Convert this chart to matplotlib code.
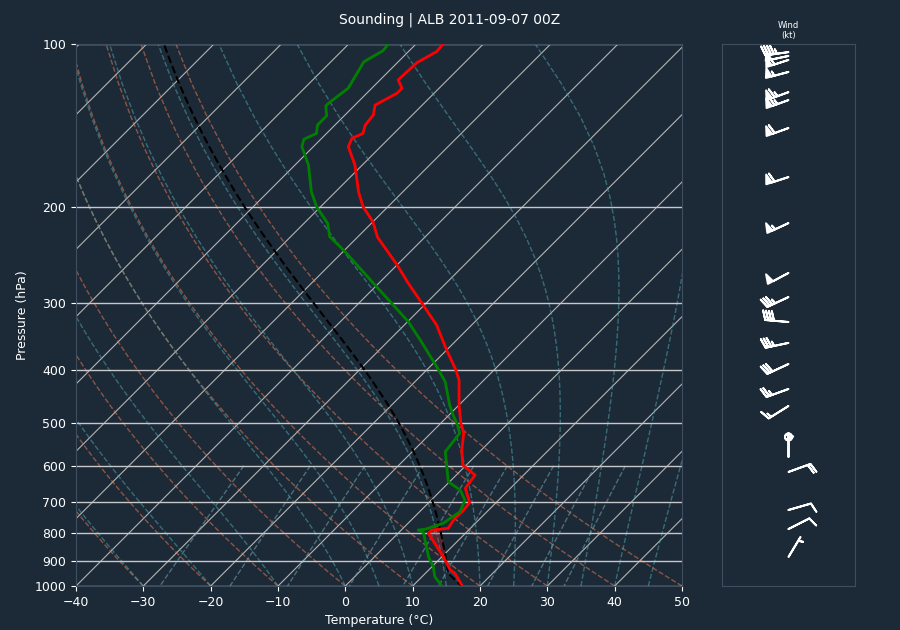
import numpy as np
import matplotlib.pyplot as plt

BG = '#1c2a38'
SPINE = '#3e4e5e'

# sounding (hPa, degC), surface first (surface sits just below 1000)
p_temp = [1006, 947.5, 934.3, 883, 799.5, 788.4, 782.7, 750.2, 729.4, 702, 660.1,
          624.3, 598.4, 561.3, 522.6, 501, 463.4, 416.8, 398.3, 367, 330, 300.9,
          276.4, 255.6, 227.3, 212.8, 199.6, 187.3, 167.2, 154.7, 149.3, 146.2,
          141.1, 135.2, 129.6, 123.3, 120.7, 116.5, 108.3, 103.3, 100]
temp = [17.7, 14.4, 13.2, 10.2, 4.5, 4.5, 6.7, 6.2, 6.3, 6.1, 3.3,
        2.8, -0.5, -2.9, -5.1, -7.0, -10.0, -13.7, -15.8, -20.0, -25.2, -30.6,
        -35.6, -40.0, -47.0, -50.0, -53.7, -56.6, -61.1, -64.8, -65.5, -64.6,
        -65.5, -65.8, -67.0, -65.5, -65.5, -67.3, -67.1, -65.8, -66.0]

p_dew = [1006, 961.2, 921.3, 883, 797.4, 788.4, 786.2, 766.2, 729.4, 694, 665.1,
         642.1, 565.3, 522.6, 501, 483.6, 463.4, 419.9, 393.9, 351.7, 325.4,
         300.9, 278.4, 241.6, 226.7, 214.2, 199.6, 187.3, 167.2, 154.7, 149.9,
         146.2, 141.1, 135.7, 130.1, 128.7, 120.7, 107.8, 102.9, 100]
dewp = [14.7, 11.9, 10.2, 8.0, 3.7, 2.5, 3.4, 5.2, 6.0, 5.0, 2.8,
        -0.2, -5.1, -5.7, -7.6, -9.4, -11.4, -15.5, -19.0, -25.4, -29.9,
        -35.1, -40.3, -49.7, -54.2, -56.5, -60.6, -63.6, -68.0, -71.7, -72.5,
        -71.5, -72.6, -72.6, -74.2, -74.2, -73.5, -75.1, -73.9, -74.1]

# winds (hPa, direction deg, speed kt)
p_wind = [884, 785, 724, 616, 578, 531, 465.5, 433, 389.4, 356, 325.8, 293,
          264.5, 214, 176, 142.9, 126.9, 122.7, 112.6, 107, 105.2, 103.5, 100]
wdir = [31, 63, 74, 70, 360, 0, 238, 250, 245, 258, 275, 245,
        242, 245, 252, 250, 250, 250, 255, 252, 258, 262, 270]
wspd = [5, 10, 10, 20, 5, 0, 15, 25, 30, 35, 40, 35,
        50, 55, 60, 60, 65, 65, 55, 55, 50, 45, 40]

# thermodynamics (same approach as metpy)
Rd, Cp, Lv, eps = 287.04749, 1005.7, 2.50084e6, 0.622
kappa = Rd / Cp


def sat_vp(tc):
    return 6.112 * np.exp(17.67 * tc / (tc + 243.5))


def dewpoint_from_e(e):
    a = np.log(e / 6.112)
    return 243.5 * a / (17.67 - a)


def moist_rate(p, tk):
    es = sat_vp(tk - 273.15)
    rs = eps * es / (p - es)
    return (Rd * tk + Lv * rs) / (Cp + Lv * Lv * rs * eps / (Rd * tk * tk)) / p


def moist_adiabat(t0, p0, pres):
    t = np.asarray(t0, dtype=float) + 273.15
    p = float(p0)
    out = []
    for pt in pres:
        n = int(abs(pt - p) / 2) + 1
        h = (pt - p) / n
        for _ in range(n):
            k1 = moist_rate(p, t)
            k2 = moist_rate(p + h / 2, t + h / 2 * k1)
            k3 = moist_rate(p + h / 2, t + h / 2 * k2)
            k4 = moist_rate(p + h, t + h * k3)
            t = t + h / 6 * (k1 + 2 * k2 + 2 * k3 + k4)
            p += h
        out.append(t - 273.15)
    return np.array(out)


def lcl(p0, t0, td0):
    w = eps * sat_vp(td0) / (p0 - sat_vp(td0))
    p = p0
    for _ in range(60):
        e = p * w / (eps + w)
        td = dewpoint_from_e(e)
        p = p0 * ((td + 273.15) / (t0 + 273.15)) ** (1 / kappa)
    return p, td


# figure / axes geometry
fig = plt.figure(figsize=(9, 6.3), dpi=100, facecolor=BG)
ax = fig.add_axes([76 / 900, 44 / 630, 606 / 900, 542 / 630])
wax = fig.add_axes([722 / 900, 44 / 630, 133 / 900, 542 / 630])

xmin, xmax = -40, 50
S = (542 / 606) * (xmax - xmin)  # skew in degC per decade of pressure


def sk(t, p):
    return np.asarray(t, dtype=float) + S * np.log10(1000.0 / np.asarray(p, dtype=float))


ax.set_facecolor(BG)
ax.set_yscale('log')

# isotherms
for t in range(-170, 51, 10):
    ax.plot(sk([t, t], [1000, 100]), [1000, 100], color='#b4b4b4', lw=0.8, zorder=1)

padi = np.linspace(1000, 100, 50)
# dry adiabats
for t0 in np.arange(xmin, xmax + 1, 10):
    tt = (t0 + 273.15) * (padi / 1000.0) ** kappa - 273.15
    ax.plot(sk(tt, padi), padi, color='coral', ls='--', lw=1.0, alpha=0.5, zorder=1)

# moist adiabats
t0m = np.concatenate((np.arange(xmin, 0, 10), np.arange(0, xmax + 1, 5)))
tm = moist_adiabat(t0m, 1000, padi)
for i in range(len(t0m)):
    ax.plot(sk(tm[:, i], padi), padi, color='#4fa3aa', ls='--', lw=1.0, alpha=0.55, zorder=1)

# mixing ratio lines
wvals = np.array([0.0004, 0.001, 0.002, 0.004, 0.007, 0.01, 0.016, 0.024, 0.032])
pmix = np.linspace(600, 1000, 50)
for w in wvals:
    tdm = dewpoint_from_e(pmix * w / (eps + w))
    ax.plot(sk(tdm, pmix), pmix, color='#6f9ca3', ls='--', lw=1.0, alpha=0.6, zorder=1)

# parcel profile
pt = np.array(p_temp)
tt = np.array(temp)
p_lcl, t_lcl = lcl(pt[0], tt[0], dewp[0])
prof = np.empty_like(tt)
below = pt >= p_lcl
prof[below] = (tt[0] + 273.15) * (pt[below] / pt[0]) ** kappa - 273.15
prof[~below] = moist_adiabat(t_lcl, p_lcl, pt[~below])

# cape / cin shading
pos = prof > tt
lfc_idx = np.argmax(pos & ~below) if np.any(pos & ~below) else len(pt) - 1
ax.fill_betweenx(pt, sk(tt, pt), sk(prof, pt), where=pos, interpolate=True,
                 color='tab:red', alpha=0.3, lw=0, zorder=2)
cin = (~pos) & (np.arange(len(pt)) <= lfc_idx)
ax.fill_betweenx(pt, sk(tt, pt), sk(prof, pt), where=cin, interpolate=True,
                 color='tab:blue', alpha=0.3, lw=0, zorder=2)

ax.plot(sk(prof, pt), pt, color='black', ls='--', lw=1.5, zorder=3)
ax.plot(sk(temp, p_temp), p_temp, color='red', lw=2, zorder=4)
ax.plot(sk(dewp, p_dew), p_dew, color='green', lw=2, zorder=4)

ax.set_xlim(xmin, xmax)
ax.set_ylim(1000, 100)
yt = list(range(100, 1001, 100))
ax.set_yticks(yt)
ax.set_yticklabels([str(v) for v in yt])
ax.yaxis.set_minor_locator(plt.NullLocator())
ax.set_xticks(range(xmin, xmax + 1, 10))
ax.grid(axis='y', color='#c8c8c8', lw=1.0, zorder=1)
ax.tick_params(colors='white', labelsize=9, length=3.5)
for s in ax.spines.values():
    s.set_color(SPINE)
ax.set_xlabel('Temperature (°C)', color='white', fontsize=9)
ax.set_ylabel('Pressure (hPa)', color='white', fontsize=9)

# wind panel
wax.set_facecolor(BG)
wax.set_yscale('log')
wax.set_ylim(1000, 100)
wax.set_xlim(-1, 1)
wd = np.radians(wdir)
u = -np.array(wspd) * np.sin(wd)
v = -np.array(wspd) * np.cos(wd)
wax.barbs(np.zeros(len(p_wind)), p_wind, u, v, color='white', length=5.8, lw=1.4)
wax.set_xticks([])
wax.set_yticks([])
wax.yaxis.set_minor_locator(plt.NullLocator())
for s in wax.spines.values():
    s.set_color(SPINE)
wax.set_title('Wind\n(kt)', color='white', fontsize=6, pad=4)

fig.text(0.5, 1 - 20 / 630, 'Sounding | ALB 2011-09-07 00Z', ha='center', va='center',
         color='white', fontsize=10)

fig.savefig('out.png', dpi=100, facecolor=BG)
